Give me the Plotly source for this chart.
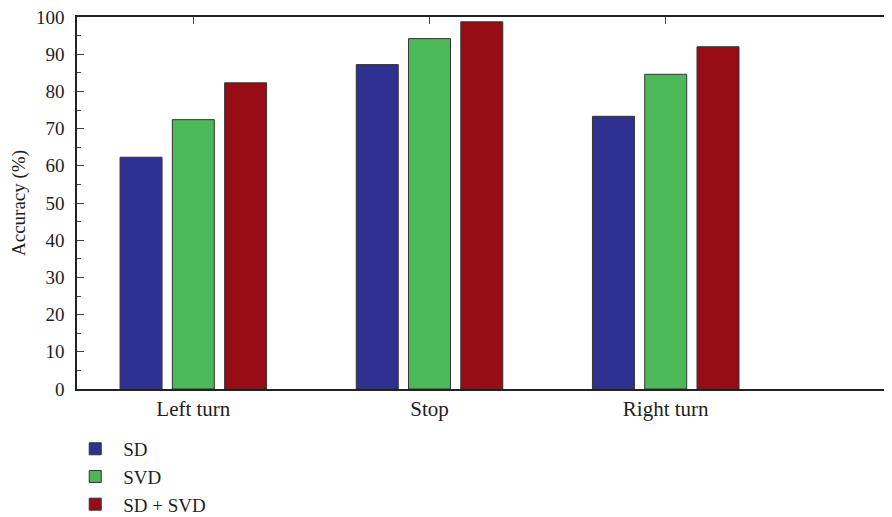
import plotly.graph_objects as go

categories = ["Left turn", "Stop", "Right turn"]
series_names = ["SD", "SVD", "SD + SVD"]
sd_values = [62.3, 87.2, 73.3]
svd_values = [72.4, 94.2, 84.6]
sdsvd_values = [82.3, 98.7, 92.0]
y_ticks = list(range(0, 101, 10))

colors = ["#2E3192", "#4BB957", "#970C15"]
font_family = "Liberation Serif, DejaVu Serif, serif"
txt = "#1e1e1e"

fig = go.Figure()
for name, vals, col in zip(series_names, [sd_values, svd_values, sdsvd_values], colors):
    fig.add_trace(go.Bar(
        x=categories, y=vals, name=name,
        marker=dict(color=col, line=dict(color="#333333", width=1)),
    ))

# invisible trace to anchor the top axis
fig.add_trace(go.Scatter(x=categories, y=[None]*3, xaxis="x2", showlegend=False,
                         hoverinfo="skip", mode="markers"))

fig.update_layout(
    width=884, height=509,
    margin=dict(l=69, r=0, t=9, b=128, autoexpand=False),
    plot_bgcolor="white", paper_bgcolor="white",
    barmode="group", bargap=0.336, bargroupgap=0.197,
    font=dict(family=font_family, size=19, color=txt),
    showlegend=True,
    legend=dict(x=-0.012, y=-0.11, xanchor="left", yanchor="top",
                orientation="v", font=dict(size=19, family=font_family, color=txt),
                tracegroupgap=0, itemwidth=46, bgcolor="rgba(0,0,0,0)"),
    xaxis=dict(
        type="category", range=[-0.4925, 2.958], automargin=False,
        showline=True, linecolor="#222222", linewidth=1.5,
        ticks="", showgrid=False, zeroline=False,
        tickfont=dict(size=21, family=font_family, color=txt),
    ),
    xaxis2=dict(
        type="category", overlaying="x", side="top", matches="x",
        range=[-0.4925, 2.958], automargin=False,
        showline=True, linecolor="#222222", linewidth=1.5,
        ticks="inside", ticklen=7, tickwidth=1.2, tickcolor="#444444",
        showticklabels=False, showgrid=False, zeroline=False,
    ),
    yaxis=dict(
        range=[0, 100], tickvals=y_ticks, automargin=False,
        showline=True, linecolor="#222222", linewidth=1.5,
        ticks="inside", ticklen=7, tickwidth=1.2, tickcolor="#444444",
        ticklabelstandoff=7, ticklabeloverflow="allow",
        minor=dict(dtick=5, ticks="inside", ticklen=4, tickwidth=1, tickcolor="#444444"),
        showgrid=False, zeroline=False,
        tickfont=dict(size=19, family=font_family, color=txt),
        title=dict(text="Accuracy (%)", font=dict(size=19, family=font_family, color=txt), standoff=8),
    ),
)

fig.write_html("out.html")
